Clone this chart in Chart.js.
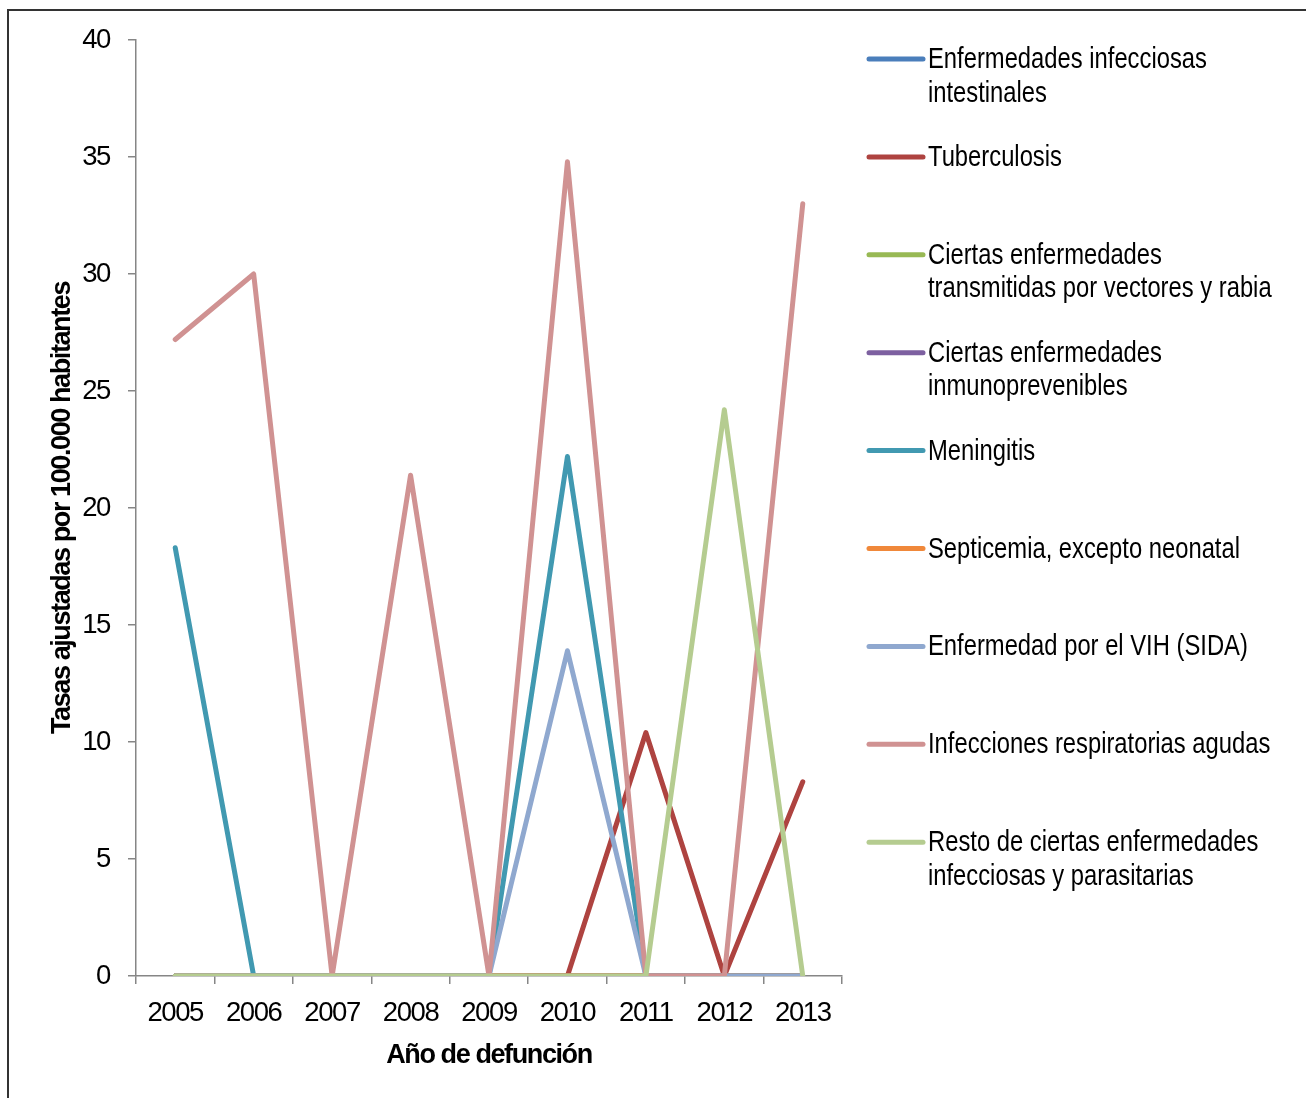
<!DOCTYPE html>
<html lang="es">
<head>
<meta charset="utf-8">
<title>Tasas ajustadas por 100.000 habitantes</title>
<script src="https://cdn.jsdelivr.net/npm/chart.js@4.4.1/dist/chart.umd.min.js"></script>
<style>
  html, body { margin: 0; padding: 0; background: #fff; overflow: hidden; }
  #wrap { position: relative; width: 1306px; height: 1098px; }
</style>
</head>
<body>
<div id="wrap"><canvas id="chart" width="1306" height="1098"></canvas></div>
<script>
// Años de defunción
const years = ['2005', '2006', '2007', '2008', '2009', '2010', '2011', '2012', '2013'];

// Tasas ajustadas por 100.000 habitantes, por grupo de causas
const intestinales    = [0, 0, 0, 0, 0, 0, 0, 0, 0];
const tuberculosis    = [0, 0, 0, 0, 0, 0, 10.4, 0, 8.3];
const vectores        = [0, 0, 0, 0, 0, 0, 0, 0, 0];
const inmunoprev      = [0, 0, 0, 0, 0, 0, 0, 0, 0];
const meningitis      = [18.3, 0, 0, 0, 0, 22.2, 0, 0, 0];
const septicemia      = [0, 0, 0, 0, 0, 0, 0, 0, 0];
const vih             = [0, 0, 0, 0, 0, 13.9, 0, 0, 0];
const respiratorias   = [27.2, 30.0, 0, 21.4, 0, 34.8, 0, 0, 33.0];
const restoInfecc     = [0, 0, 0, 0, 0, 0, 0, 24.2, 0];

// Nombres de las series (cada elemento es una línea del texto de la leyenda)
const seriesNames = [
  ['Enfermedades infecciosas', 'intestinales'],
  ['Tuberculosis'],
  ['Ciertas enfermedades', 'transmitidas por vectores y rabia'],
  ['Ciertas enfermedades', 'inmunoprevenibles'],
  ['Meningitis'],
  ['Septicemia, excepto neonatal'],
  ['Enfermedad por el VIH (SIDA)'],
  ['Infecciones respiratorias agudas'],
  ['Resto de ciertas enfermedades', 'infecciosas y parasitarias']
];
const seriesValues = [intestinales, tuberculosis, vectores, inmunoprev, meningitis,
                      septicemia, vih, respiratorias, restoInfecc];
const seriesColors = ['#4A7EBB', '#AE4340', '#98B954', '#7D60A0', '#4199B1',
                      '#F0883A', '#8FA8CF', '#D09292', '#B5CC90'];

// Rango del eje Y
const yMin = 0, yMax = 40, yStep = 5;

const FONT = "'Liberation Sans', Arial, sans-serif";
const AXIS_GREY = '#868686';
const LINE_W = 5;

const datasets = seriesValues.map((vals, i) => ({
  label: seriesNames[i].join(' '),
  data: vals,
  borderColor: seriesColors[i],
  backgroundColor: seriesColors[i],
  borderWidth: LINE_W,
  pointRadius: 0,
  pointHoverRadius: 0,
  tension: 0,
  fill: false,
  borderJoinStyle: 'round',
  borderCapStyle: 'round',
  // later series are painted on top of earlier ones
  order: seriesValues.length - 1 - i
}));

// Marco exterior; espaciado de letras más ajustado para el texto de los ejes
const framePlugin = {
  id: 'frame',
  beforeInit(chart) {
    if ('letterSpacing' in chart.ctx) chart.ctx.letterSpacing = '-1.4px';
  },
  beforeDraw(chart) {
    const ctx = chart.ctx;
    if ('letterSpacing' in ctx) ctx.letterSpacing = '-1.4px';
    ctx.save();
    ctx.fillStyle = '#fff';
    ctx.fillRect(0, 0, chart.width, chart.height);
    ctx.strokeStyle = '#333';
    ctx.lineWidth = 2;
    ctx.strokeRect(8, 10, 1400, 1200);
    ctx.restore();
  }
};

// Leyenda a la derecha del área de trazado, con texto estrecho
const sideLegend = {
  id: 'sideLegend',
  afterDraw(chart) {
    const ctx = chart.ctx;
    const x0 = 869, x1 = 923, tx = 928;
    const top = 59, step = 97.9, lineGap = 33.5;
    ctx.save();
    if ('letterSpacing' in ctx) ctx.letterSpacing = '0px';
    ctx.font = '29px ' + FONT;
    ctx.textBaseline = 'middle';
    ctx.textAlign = 'left';
    chart.data.datasets.forEach((ds, i) => {
      const y = top + i * step;
      ctx.strokeStyle = ds.borderColor;
      ctx.lineWidth = LINE_W;
      ctx.lineCap = 'round';
      ctx.beginPath();
      ctx.moveTo(x0, y);
      ctx.lineTo(x1, y);
      ctx.stroke();
      ctx.fillStyle = '#000';
      seriesNames[i].forEach((line, k) => {
        ctx.save();
        ctx.translate(tx, y + 1 + k * lineGap);
        ctx.scale(0.82, 1);
        ctx.fillText(line, 0, 0);
        ctx.restore();
      });
    });
    ctx.restore();
  }
};

new Chart(document.getElementById('chart'), {
  type: 'line',
  data: { labels: years, datasets },
  options: {
    responsive: false,
    animation: false,
    events: [],
    layout: { padding: { left: 0, right: 464, top: 40, bottom: 0 } },
    plugins: {
      legend: { display: false },
      tooltip: { enabled: false },
      title: { display: false }
    },
    scales: {
      x: {
        type: 'category',
        offset: true,
        afterFit(scale) { scale.height = 122; },
        grid: {
          display: true,
          offset: true,
          drawOnChartArea: false,
          drawTicks: true,
          tickLength: 8,
          color: AXIS_GREY,
          lineWidth: 1.5
        },
        border: { display: true, color: AXIS_GREY, width: 1.5 },
        ticks: {
          color: '#000',
          font: { family: FONT, size: 27.5 },
          padding: 13,
          maxRotation: 0,
          autoSkip: false
        },
        title: {
          display: true,
          text: 'Año de defunción',
          color: '#000',
          font: { family: FONT, size: 27, weight: 'bold' },
          padding: { top: 0, bottom: 26 }
        }
      },
      y: {
        min: yMin,
        max: yMax,
        afterFit(scale) { scale.width = 136; },
        grid: {
          display: true,
          drawOnChartArea: false,
          drawTicks: true,
          tickLength: 8,
          color: AXIS_GREY,
          lineWidth: 1.5
        },
        border: { display: true, color: AXIS_GREY, width: 1.5 },
        ticks: {
          stepSize: yStep,
          color: '#000',
          font: { family: FONT, size: 27.5 },
          padding: 18
        },
        title: {
          display: true,
          text: 'Tasas ajustadas por 100.000 habitantes',
          color: '#000',
          font: { family: FONT, size: 27, weight: 'bold' },
          padding: { top: 46, bottom: 0 }
        }
      }
    }
  },
  plugins: [framePlugin, sideLegend]
});
</script>
</body>
</html>
